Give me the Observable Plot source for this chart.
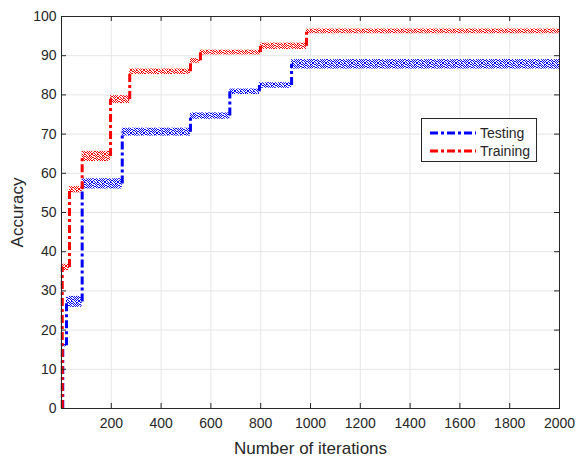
<!DOCTYPE html>
<html><head><meta charset="utf-8">
<script src="https://cdn.jsdelivr.net/npm/d3@7"></script>
<script src="https://cdn.jsdelivr.net/npm/@observablehq/plot@0.6"></script>
<style>
body{margin:0;background:#fff;}
#wrap{position:relative;width:576px;height:458px;font-family:"Liberation Sans",Arial,Helvetica,sans-serif;color:#262626;}
#legend{position:absolute;left:421px;top:118px;width:114px;height:42px;border:1px solid #262626;background:#fff;box-sizing:content-box;}
#legend .row{position:absolute;left:0;height:16px;display:flex;align-items:center;font-size:14px;}
#legend svg{margin-left:8px;margin-right:4px;}
</style></head>
<body>
<svg width="0" height="0" style="position:absolute">
<defs id="pdefs"></defs></svg>
<div id="wrap">
<div id="legend">
<div class="row" style="top:6px"><svg width="46" height="6"><line x1="0" y1="3" x2="46" y2="3" stroke="#0000ff" stroke-width="3" stroke-dasharray="8,3,3,3"/></svg><span>Testing</span></div>
<div class="row" style="top:24px"><svg width="46" height="6"><line x1="0" y1="3" x2="46" y2="3" stroke="#ff0000" stroke-width="3" stroke-dasharray="8,3,3,3"/></svg><span>Training</span></div>
</div>
</div>
<script>
const xTicks = [200, 400, 600, 800, 1000, 1200, 1400, 1600, 1800, 2000];
const yTicks = [0, 10, 20, 30, 40, 50, 60, 70, 80, 90, 100];

// Testing accuracy: plateau start iteration, plateau level, half-width of the noise band
const testStart  = [1, 5, 20, 83, 244, 518, 676, 795, 924];
const testLevel  = [0, 16, 27.2, 57.3, 70.5, 74.6, 80.8, 82.4, 87.8];
const testSpread = [0, 0.3, 1.4, 1.3, 1.0, 0.8, 0.7, 0.7, 1.2];

// Training accuracy
const trainStart  = [1, 3, 32, 83, 197, 274, 518, 558, 799, 984];
const trainLevel  = [0, 36, 55.8, 64.3, 78.8, 85.9, 88.7, 90.8, 92.4, 96.2];
const trainSpread = [0, 0.8, 0.8, 1.3, 1.0, 0.7, 0.6, 0.6, 0.8, 0.6];

const xMax = 2000;

// speckle texture (styling only)
const speckle = [
  "1100101100100",
  "0011010010011",
  "1000101101010",
  "0110010010101",
  "1001101001010",
  "0010010110101",
  "1101001001010"
];
function addPattern(id, color) {
  const ns = "http://www.w3.org/2000/svg";
  const p = document.createElementNS(ns, "pattern");
  p.setAttribute("id", id);
  p.setAttribute("width", speckle[0].length);
  p.setAttribute("height", speckle.length);
  p.setAttribute("patternUnits", "userSpaceOnUse");
  speckle.forEach((row, j) => [...row].forEach((c, i) => {
    if (c === "1") {
      const r = document.createElementNS(ns, "rect");
      r.setAttribute("x", i); r.setAttribute("y", j);
      r.setAttribute("width", 1); r.setAttribute("height", 1);
      r.setAttribute("fill", color);
      p.appendChild(r);
    }
  }));
  document.getElementById("pdefs").appendChild(p);
}
addPattern("speckB", "#0000ff");
addPattern("speckR", "#ff0000");

function bands(start, level, spread) {
  return start.map((s, i) => ({x1: s, x2: i + 1 < start.length ? start[i + 1] : xMax,
    y1: level[i] - spread[i], y2: level[i] + spread[i], sp: spread[i]})).filter(d => d.sp > 0);
}
function jumps(start, level) {
  return start.slice(1).map((s, i) => ({x: s, y1: level[i], y2: level[i + 1]}));
}

const innerW = 576 - 61 - 17, innerH = 458 - 16 - 50;
const axisColor = "#262626";

const chart = Plot.plot({
  width: 576, height: 458,
  marginLeft: 61, marginRight: 17, marginTop: 16, marginBottom: 50,
  x: {domain: [0, xMax]},
  y: {domain: [0, 100]},
  style: {fontFamily: '"Liberation Sans", Arial, Helvetica, sans-serif', color: axisColor, background: "#fff", overflow: "visible"},
  marks: [
    Plot.gridX(xTicks, {stroke: "#e6e6e6", strokeOpacity: 1}),
    Plot.gridY(yTicks, {stroke: "#e6e6e6", strokeOpacity: 1}),
    Plot.rect(bands(testStart, testLevel, testSpread), {x1: "x1", x2: "x2", y1: "y1", y2: "y2", fill: "url(#speckB)"}),
    Plot.ruleX(jumps(testStart, testLevel), {x: "x", y1: "y1", y2: "y2", stroke: "#0000ff", strokeWidth: 3, strokeDasharray: "8,3,3,3"}),
    Plot.rect(bands(trainStart, trainLevel, trainSpread), {x1: "x1", x2: "x2", y1: "y1", y2: "y2", fill: "url(#speckR)"}),
    Plot.ruleX(jumps(trainStart, trainLevel), {x: "x", y1: "y1", y2: "y2", stroke: "#ff0000", strokeWidth: 3, strokeDasharray: "8,3,3,3"}),
    Plot.frame({stroke: axisColor}),
    Plot.tickX(xTicks, {x: d => d, stroke: axisColor, insetTop: innerH - 5}),
    Plot.tickX(xTicks, {x: d => d, stroke: axisColor, insetBottom: innerH - 5}),
    Plot.tickY(yTicks, {y: d => d, stroke: axisColor, insetRight: innerW - 5}),
    Plot.tickY(yTicks, {y: d => d, stroke: axisColor, insetLeft: innerW - 5}),
    Plot.axisX(xTicks, {tickSize: 0, tickPadding: 10, fontSize: 14, label: null, tickFormat: d => String(d)}),
    Plot.axisY(yTicks, {tickSize: 0, tickPadding: 5, fontSize: 14, label: null, tickFormat: d => String(d)}),
    Plot.text(["Number of iterations"], {frameAnchor: "bottom", dy: 40, lineAnchor: "middle", textAnchor: "middle", fontSize: 17, fill: axisColor}),
    Plot.text(["Accuracy"], {frameAnchor: "left", dx: -44, rotate: -90, lineAnchor: "middle", textAnchor: "middle", fontSize: 17, fill: axisColor})
  ]
});
document.getElementById("wrap").prepend(chart);
</script>
</body></html>
